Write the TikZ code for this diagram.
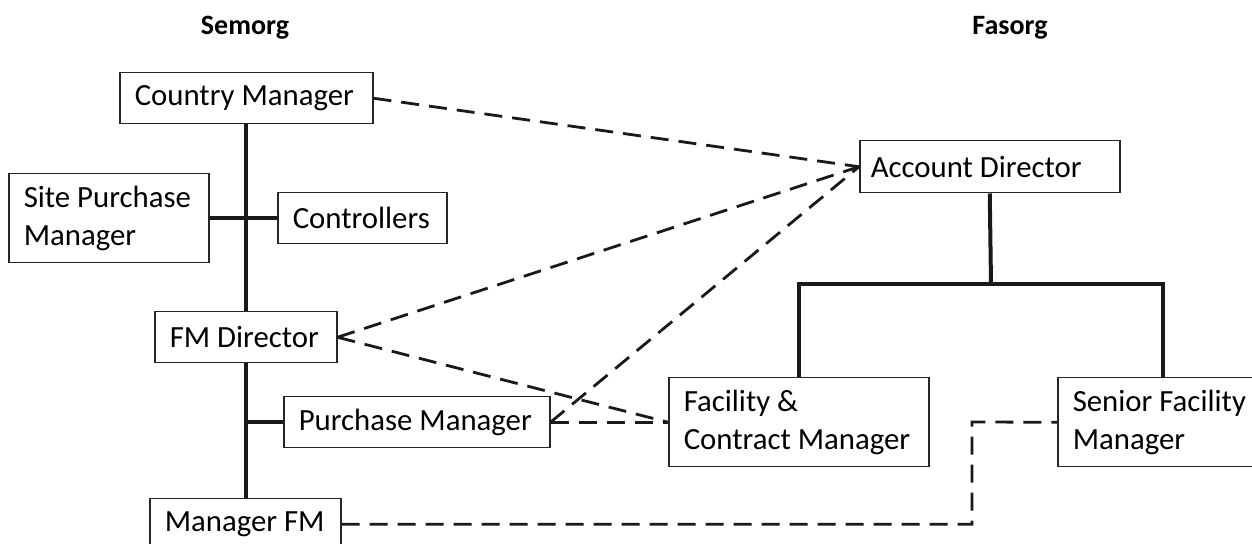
\documentclass[tikz,border=0pt]{standalone}
\usepackage{fontspec}
\setmainfont{Carlito}
\usetikzlibrary{positioning}
\tikzset{
  unit/.style 2 args={draw=black!85, line width=0.75pt, anchor=north west,
    align=flush left, inner xsep=7.5pt, inner ysep=0pt,
    font=\fontsize{15.4}{19.1}\selectfont, text width=#1, minimum height=#2},
  heading/.style={font=\fontsize{14}{17}\selectfont\bfseries},
  reports/.style={line width=2pt, black!90},
  liaison/.style={line width=1.4pt, black!90, dash pattern=on 9pt off 5pt},
}

\begin{document}
\begin{tikzpicture}[x=0.5pt, y=-0.5pt]
            \useasboundingbox (0,0) rectangle (1252,544);
            % Titles
            \node[heading] (semorg) at (245,28) {Semorg};
            \node[heading] (fasorg) at (1010,28) {Fasorg};
            % Left organisation (Semorg)
            \node[unit={111.5pt}{25.5pt}] (cm) at (119,72) {Country Manager};
            \node[unit={85pt}{44.5pt}] (spm) at (8,173) {Site Purchase\\Manager};
            \node[unit={69.5pt}{25.5pt}] (ctrl) at (277,192) {Controllers};
            \node[unit={76pt}{25.5pt}] (fmd) at (154,311) {FM Director};
            \node[unit={118pt}{25.5pt}] (pm) at (283,396) {Purchase Manager};
            \node[unit={80.5pt}{25.5pt}] (mfm) at (149,498) {Manager FM};
            \draw[reports] (cm.south) -- (cm.south |- fmd.north);
            \draw[reports] (cm.south |- fmd.south) -- (cm.south |- mfm.north);
            \draw[reports] (spm.east) -- (ctrl.west);
            \draw[reports] (pm.west) -- (pm.west -| cm.south);
            % Right organisation (Fasorg)
            \node[unit={119pt}{26pt}, inner xsep=5.5pt] (ad) at (859,140) {Account Director};
            \node[unit={115pt}{44.5pt}] (fcm) at (668,377) {Facility \&\\Contract Manager};
            \node[unit={90pt}{44.5pt}] (sfm) at (1057,377) {Senior Facility\\Manager};
            \coordinate (split) at (991,284);
            \draw[reports] (ad.south) -- (split);
            \draw[reports] (fcm.north) |- (split) -| (sfm.north);
            % Contacts between both
            \draw[liaison] (cm.east) -- (ad.west);
            \draw[liaison] (fmd.east) -- (ad.west);
            \draw[liaison] (fmd.east) -- (fcm.west);
            \draw[liaison] (pm.east) -- (ad.west);
            \draw[liaison] (pm.east) -- (fcm.west);
            \coordinate (jog) at (972,422);
            \draw[liaison] (mfm.east) -| (jog) -- (sfm.west);
        \end{tikzpicture}
\end{document}
